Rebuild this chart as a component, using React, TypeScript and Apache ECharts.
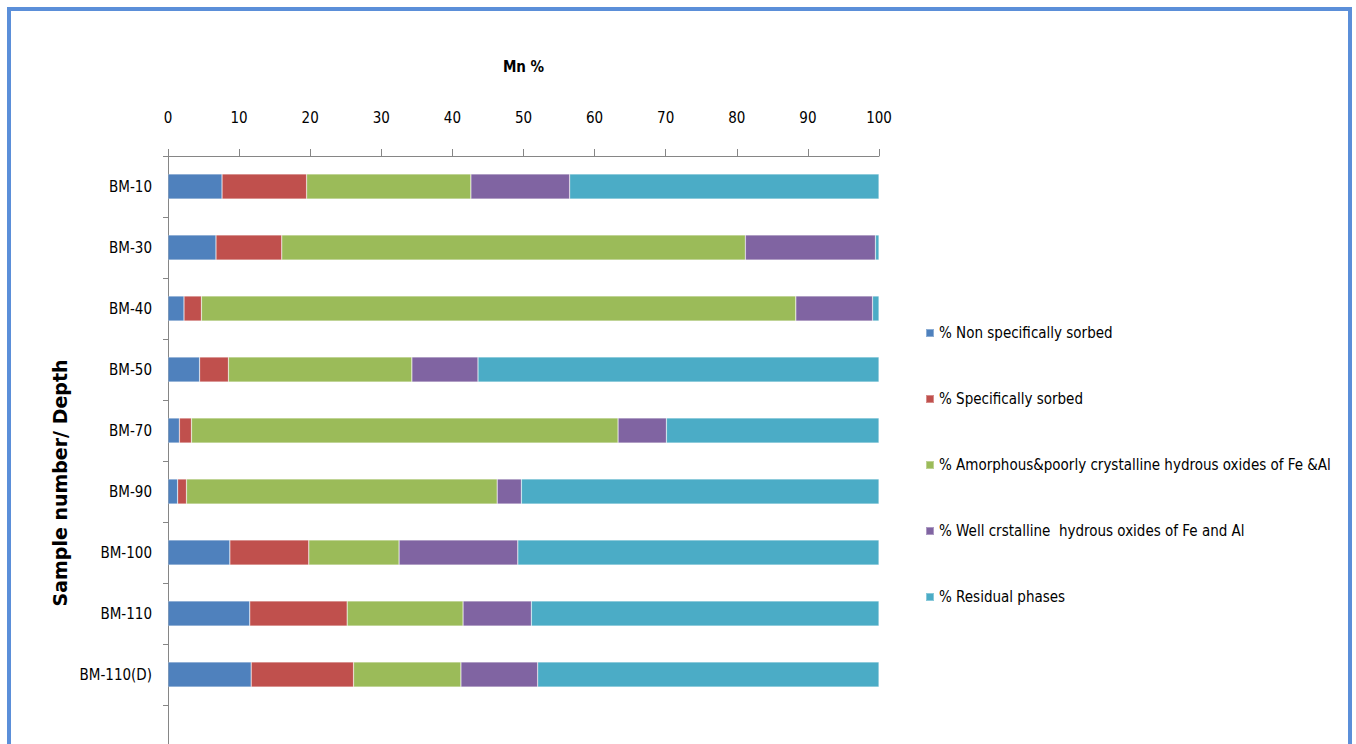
import React, { useEffect, useRef } from "react";
import * as echarts from "echarts";

const FONT = "'DejaVu Sans Condensed', 'Liberation Sans', sans-serif";
const TITLE_FONT = "'DejaVu Sans', 'Liberation Sans', sans-serif";

// Sample rows (last slot left empty, as in the plot area)
const categories = ["BM-10", "BM-30", "BM-40", "BM-50", "BM-70", "BM-90", "BM-100", "BM-110", "BM-110(D)", ""];

const xTicks = [0, 10, 20, 30, 40, 50, 60, 70, 80, 90, 100];

// Mn fractions, % of total
const nonSpecific = [7.6, 6.75, 2.25, 4.45, 1.6, 1.36, 8.7, 11.5, 11.7];
const specific = [11.9, 9.25, 2.45, 4.05, 1.7, 1.24, 11.1, 13.7, 14.4];
const amorphous = [23.1, 65.2, 83.6, 25.8, 60.0, 43.7, 12.7, 16.3, 15.1];
const wellCrystalline = [13.9, 18.3, 10.8, 9.3, 6.8, 3.4, 16.7, 9.6, 10.8];
const residual = [43.5, 0.5, 0.9, 56.4, 29.9, 50.3, 50.8, 48.9, 48.0];

const seriesNames = [
  "% Non specifically sorbed",
  "% Specifically sorbed",
  "% Amorphous&poorly crystalline hydrous oxides of Fe &Al",
  "% Well crstalline  hydrous oxides of Fe and Al",
  "% Residual phases",
];
const seriesColors = ["#4f81bd", "#c0504d", "#9bbb59", "#8064a2", "#4bacc6"];
const seriesData = [nonSpecific, specific, amorphous, wellCrystalline, residual];

export default function App() {
  const ref = useRef<HTMLDivElement>(null);

  useEffect(() => {
    if (!ref.current) return;
    const chart = echarts.init(ref.current, undefined, { renderer: "svg" });
    chart.setOption({
      animation: false,
      backgroundColor: "#ffffff",
      textStyle: { fontFamily: FONT },
      grid: {
        left: 168,
        top: 156,
        width: 711,
        height: 610,
        containLabel: false,
        outerBoundsMode: "none",
      },
      legend: {
        orient: "vertical",
        left: 920,
        top: 318,
        icon: "rect",
        itemWidth: 8,
        itemHeight: 8,
        itemGap: 46,
        data: seriesNames,
        textStyle: { fontFamily: FONT, fontSize: 15, color: "#000", lineHeight: 20 },
      },
      xAxis: {
        type: "value",
        position: "top",
        min: xTicks[0],
        max: xTicks[xTicks.length - 1],
        interval: xTicks[1] - xTicks[0],
        name: "Mn %",
        nameLocation: "middle",
        nameGap: 82,
        nameTextStyle: { fontFamily: FONT, fontWeight: "bold", fontSize: 15, color: "#000" },
        axisLine: { show: true, lineStyle: { color: "#868686", width: 1 } },
        axisTick: { show: true, length: 7, lineStyle: { color: "#868686" } },
        axisLabel: { margin: 31, fontSize: 15, color: "#000", fontFamily: FONT },
        splitLine: { show: false },
      },
      yAxis: {
        type: "category",
        data: categories,
        inverse: true,
        axisLine: { show: true, lineStyle: { color: "#868686", width: 1 } },
        axisTick: { show: true, length: 5, lineStyle: { color: "#868686" } },
        axisLabel: { margin: 16, fontSize: 15, color: "#000", fontFamily: FONT },
        splitLine: { show: false },
      },
      series: seriesNames.map((name, i) => ({
        name,
        type: "bar",
        stack: "total",
        barWidth: 25,
        data: seriesData[i],
        itemStyle: {
          color: seriesColors[i],
          borderColor: "rgba(255,255,255,0.35)",
          borderWidth: 0.6,
        },
      })),
      graphic: [
        {
          type: "rect",
          shape: { x: 9, y: 9, width: 1341, height: 800 },
          style: { fill: "none", stroke: "#5b8fd9", lineWidth: 4 },
          silent: true,
        },
        {
          type: "text",
          x: 60,
          y: 483,
          rotation: Math.PI / 2,
          style: {
            text: "Sample number/ Depth",
            fontFamily: TITLE_FONT,
            fontWeight: "bold",
            fontSize: 19,
            fill: "#000",
            align: "center",
            verticalAlign: "middle",
          },
          silent: true,
        },
      ],
    });
    return () => chart.dispose();
  }, []);

  return (
    <div
      ref={ref}
      style={{ position: "fixed", left: 0, top: 0, width: 1356, height: 744 }}
    />
  );
}
